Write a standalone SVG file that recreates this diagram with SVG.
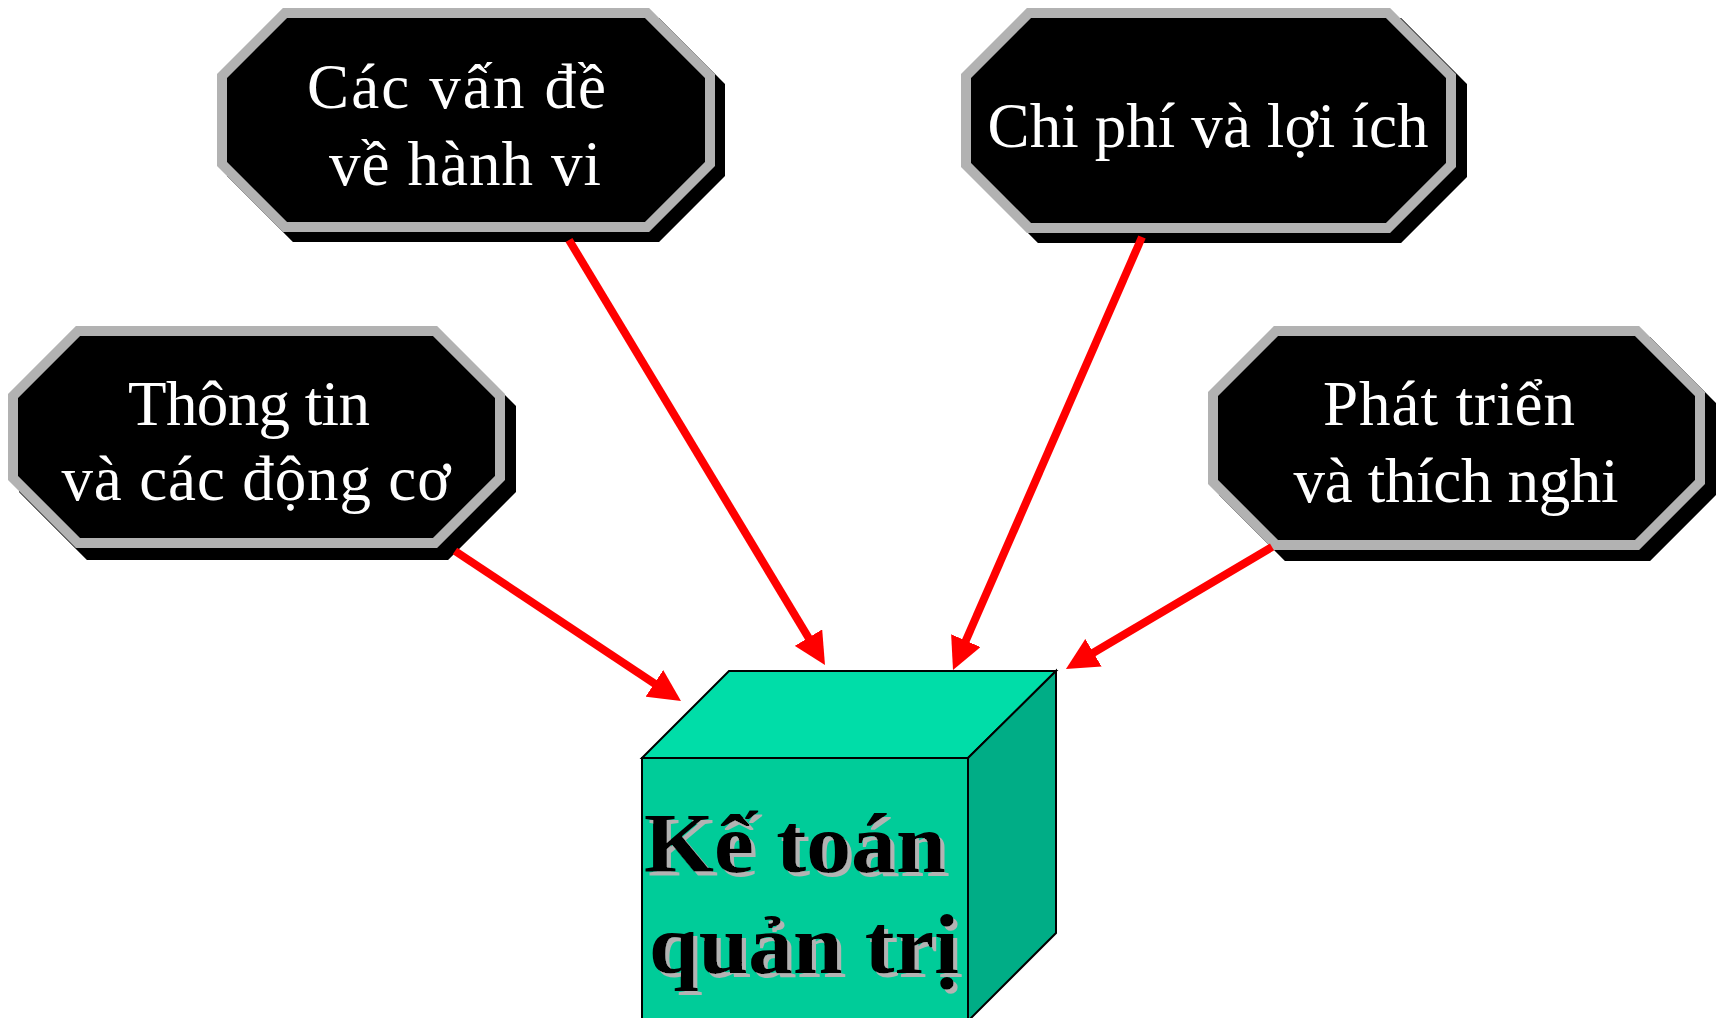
<svg xmlns="http://www.w3.org/2000/svg" width="1719" height="1018" viewBox="0 0 1719 1018">
<style>
.bg{fill:#ffffff}
.shadow{fill:#000000;stroke:#000000;stroke-width:10;stroke-linejoin:miter}
.oct{fill:#000000;stroke:#b2b2b2;stroke-width:10;stroke-linejoin:miter}
.lbl{font-family:"Liberation Serif","Times New Roman",serif;font-size:63px;fill:#ffffff;text-anchor:middle}
.conn{stroke:#ff0000;stroke-width:8;fill:none}
.cube{stroke:#000000;stroke-width:2;stroke-linejoin:miter}
.ct{font-family:"Liberation Serif","Times New Roman",serif;font-weight:bold;font-size:85px;fill:#000000;filter:url(#tshadow)}
</style>
<defs>
<marker id="ah" viewBox="0 0 32 32" markerWidth="32" markerHeight="32" markerUnits="userSpaceOnUse" refX="8" refY="16" orient="auto">
<path d="M0,0 L32,16 L0,32 Z" fill="#ff0000"/>
</marker>
<filter id="tshadow" x="-5%" y="-20%" width="115%" height="150%">
<feOffset in="SourceAlpha" dx="4" dy="4" result="off"/>
<feFlood flood-color="#b3b3b3" result="col"/>
<feComposite in="col" in2="off" operator="in" result="sh"/>
<feMerge><feMergeNode in="sh"/><feMergeNode in="SourceGraphic"/></feMerge>
</filter>
</defs>
<rect class="bg" x="0" y="0" width="1719" height="1018"/>

<g id="node-hanh-vi">
<path class="shadow" transform="translate(10,10)" d="M 285 13 H 647 L 710 76 V 164 L 647 227 H 285 L 222 164 V 76 Z"/>
<path class="oct" d="M 285 13 H 647 L 710 76 V 164 L 647 227 H 285 L 222 164 V 76 Z"/>
<text class="lbl" x="456.5" y="108" textLength="299" lengthAdjust="spacing">Các vấn đề</text>
<text class="lbl" x="465" y="185" textLength="272" lengthAdjust="spacing">về hành vi</text>
</g>

<g id="node-thong-tin">
<path class="shadow" transform="translate(11,12)" d="M 78 331 H 435 L 500 396 V 478 L 435 543 H 78 L 13 478 V 396 Z"/>
<path class="oct" d="M 78 331 H 435 L 500 396 V 478 L 435 543 H 78 L 13 478 V 396 Z"/>
<text class="lbl" x="249" y="425" textLength="242" lengthAdjust="spacing">Thông tin</text>
<text class="lbl" x="256" y="500" textLength="389" lengthAdjust="spacing">và các động cơ</text>
</g>

<g id="node-chi-phi">
<path class="shadow" transform="translate(11,10)" d="M 1029 13 H 1388 L 1451 76 V 165 L 1388 228 H 1029 L 966 165 V 76 Z"/>
<path class="oct" d="M 1029 13 H 1388 L 1451 76 V 165 L 1388 228 H 1029 L 966 165 V 76 Z"/>
<text class="lbl" x="1208" y="147" textLength="441" lengthAdjust="spacing">Chi phí và lợi ích</text>
</g>

<g id="node-phat-trien">
<path class="shadow" transform="translate(11,11)" d="M 1276 331 H 1637 L 1700 394 V 482 L 1637 545 H 1276 L 1213 482 V 394 Z"/>
<path class="oct" d="M 1276 331 H 1637 L 1700 394 V 482 L 1637 545 H 1276 L 1213 482 V 394 Z"/>
<text class="lbl" x="1449" y="425" textLength="252" lengthAdjust="spacing">Phát triển</text>
<text class="lbl" x="1456" y="502" textLength="325" lengthAdjust="spacing">và thích nghi</text>
</g>

<g id="node-ke-toan">
<polygon class="cube" fill="#00cc99" points="642,758 968,758 968,1024 642,1024"/>
<polygon class="cube" fill="#00dda8" points="642,758 729,671 1056,671 968,758"/>
<polygon class="cube" fill="#00ad86" points="968,758 1056,671 1056,933 968,1021"/>
<text class="ct" x="644" y="872" textLength="302" lengthAdjust="spacingAndGlyphs">Kế toán</text>
<text class="ct" x="649" y="973" textLength="310" lengthAdjust="spacingAndGlyphs">quản trị</text>
</g>

<g id="connectors">
<line class="conn" x1="569" y1="240" x2="812.6" y2="644.5" marker-end="url(#ah)"/>
<line class="conn" x1="1142" y1="237" x2="962.6" y2="648" marker-end="url(#ah)"/>
<line class="conn" x1="455" y1="551" x2="661" y2="687.8" marker-end="url(#ah)"/>
<line class="conn" x1="1272" y1="547" x2="1086.6" y2="656.8" marker-end="url(#ah)"/>
</g>
</svg>
